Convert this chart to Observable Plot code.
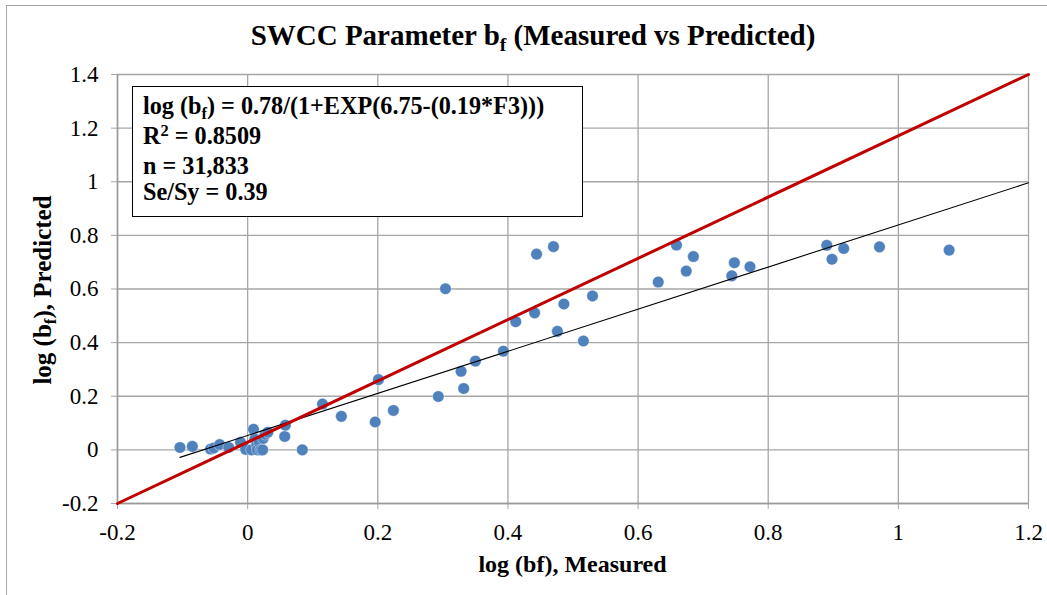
<!DOCTYPE html>
<html><head><meta charset="utf-8">
<script src="https://cdn.jsdelivr.net/npm/d3@7"></script>
<script src="https://cdn.jsdelivr.net/npm/@observablehq/plot@0.6"></script>
<style>
body{margin:0;background:#fff;}
#wrap{position:relative;width:1047px;height:595px;font-family:"Liberation Serif","Times New Roman",serif;overflow:hidden;background:#fff;}
#frame{position:absolute;left:6px;top:5px;width:1100px;height:700px;border:1.5px solid #a6a6a6;box-sizing:border-box;}
#chart{position:absolute;left:0;top:0;}
.title{position:absolute;left:0;width:1066px;top:21px;text-align:center;font-weight:bold;font-size:29px;line-height:1;white-space:nowrap;}
.sub{font-size:0.68em;position:relative;top:0.32em;}
.xlabel{position:absolute;left:0;width:1145px;top:552px;text-align:center;font-weight:bold;font-size:24px;line-height:1;white-space:nowrap;}
.ylabel{position:absolute;left:42px;top:290px;transform:translate(-50%,-50%) rotate(-90deg);font-weight:bold;font-size:25px;line-height:1;white-space:nowrap;}
.box{position:absolute;left:132px;top:86px;width:451px;height:131px;border:1px solid #000;background:#fff;box-sizing:border-box;padding:6px 0 0 10px;font-weight:bold;font-size:24.2px;line-height:26.8px;white-space:nowrap;}
</style>
</head><body>
<div id="wrap">
  <div id="frame"></div>
  <div id="chart"></div>
  <div class="title">SWCC Parameter b<span class="sub">f</span> (Measured vs Predicted)</div>
  <div class="ylabel">log (b<span class="sub">f</span>), Predicted</div>
  <div class="xlabel">log (bf), Measured</div>
  <div class="box">
    <div>log (b<span class="sub">f</span>) = 0.78/(1+EXP(6.75-(0.19*F3)))</div>
    <div>R<span style="font-size:0.68em;position:relative;top:-0.45em;">2</span> = 0.8509</div>
    <div>n = 31,833</div>
    <div>Se/Sy = 0.39</div>
  </div>
</div>
<script>
// Data
const measured = [-0.104,-0.085,-0.057,-0.052,-0.043,-0.029,-0.011,-0.003,0.006,0.009,0.011,0.014,0.015,0.018,0.020,0.023,0.024,0.027,0.031,0.057,0.058,0.084,
  0.115,0.144,0.196,0.201,0.224,0.293,0.304,0.328,0.332,0.350,0.393,0.412,0.441,0.444,0.470,0.476,0.486,0.516,0.530,
  0.631,0.659,0.674,0.685,0.744,0.748,0.772,0.890,0.898,0.916,0.971,1.078];
const predicted = [0.009,0.013,0.003,0.007,0.020,0.009,0.028,0.002,0.000,0.077,0.040,0.017,0.000,0.028,0.000,0.000,0.043,0.058,0.066,0.050,0.092,0.000,
  0.171,0.125,0.104,0.262,0.147,0.199,0.601,0.293,0.229,0.331,0.368,0.478,0.511,0.730,0.758,0.442,0.544,0.406,0.574,
  0.626,0.764,0.667,0.721,0.649,0.698,0.683,0.763,0.711,0.751,0.757,0.745];
// red reference line (corner to corner of the plot area)
const lineX = [-0.2, 1.2];
const lineY = [-0.2, 1.4];
// fitted trend line endpoints
const trendX = [-0.104, 1.2];
const trendY = [-0.028, 0.996];
const xTicks = [-0.2,0,0.2,0.4,0.6,0.8,1,1.2];
const yTicks = [-0.2,0,0.2,0.4,0.6,0.8,1,1.2,1.4];

const pts = measured.map((m,i)=>({x:m,y:predicted[i]}));
const refLine = lineX.map((v,i)=>({x:v,y:lineY[i]}));
const trend = trendX.map((v,i)=>({x:v,y:trendY[i]}));
const fmt = d => String(Math.round(d*10)/10);
const gridC = "#a6a6a6";

const chart = Plot.plot({
  width: 1047, height: 595,
  marginLeft: 117, marginRight: 19, marginTop: 74, marginBottom: 92,
  style: {fontFamily: '"Liberation Serif","Times New Roman",serif', fontSize: "23px", background: "transparent", color: "black"},
  x: {domain: [-0.2, 1.2], ticks: xTicks},
  y: {domain: [-0.2, 1.4], ticks: yTicks},
  marks: [
    Plot.gridX(xTicks, {stroke: gridC, strokeOpacity: 1, strokeWidth: 1.3}),
    Plot.gridY(yTicks, {stroke: gridC, strokeOpacity: 1, strokeWidth: 1.3}),
    Plot.axisX(xTicks, {tickSize: 6, tickPadding: 14, tickFormat: fmt, stroke: gridC, label: null}),
    Plot.axisY(yTicks, {tickSize: 6, tickPadding: 13, tickFormat: fmt, stroke: gridC, label: null}),
    Plot.ruleY([-0.2], {stroke: "#999", strokeWidth: 1.5}),
    Plot.ruleX([-0.2], {stroke: "#999", strokeWidth: 1.5}),
    Plot.dot(pts, {x: "x", y: "y", r: 5.8, fill: "#4f81bd", stroke: "#fff", strokeWidth: 0.4}),
    Plot.line(trend, {x: "x", y: "y", stroke: "#000", strokeWidth: 1.1}),
    Plot.line(refLine, {x: "x", y: "y", stroke: "#c00000", strokeWidth: 3})
  ]
});
document.getElementById("chart").appendChild(chart);
</script>
</body></html>
